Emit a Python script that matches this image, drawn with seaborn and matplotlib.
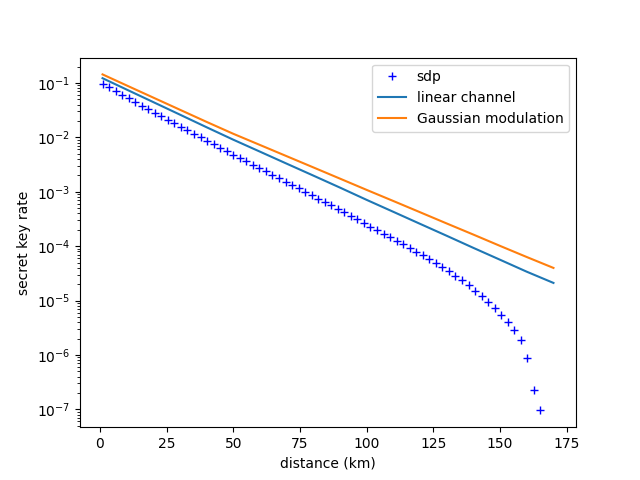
import matplotlib
matplotlib.use("Agg")
import matplotlib.pyplot as plt
import seaborn as sns

# sdp points
sdp_distance = [1.00, 3.45, 5.90, 8.35, 10.80, 13.25, 15.70, 18.14, 20.59, 23.04,
                25.49, 27.94, 30.39, 32.84, 35.29, 37.74, 40.19, 42.64, 45.09, 47.54,
                49.99, 52.43, 54.88, 57.33, 59.78, 62.23, 64.68, 67.13, 69.58, 72.03,
                74.48, 76.93, 79.38, 81.83, 84.28, 86.72, 89.17, 91.62, 94.07, 96.52,
                98.97, 101.42, 103.87, 106.32, 108.77, 111.22, 113.67, 116.12, 118.57, 121.01,
                123.46, 125.91, 128.36, 130.81, 133.26, 135.71, 138.16, 140.61, 143.06, 145.51,
                147.96, 150.41, 152.86, 155.30, 157.75, 160.20, 162.65, 165.10]
sdp_rate = [9.59e-2, 8.29e-2, 7.10e-2, 6.08e-2, 5.21e-2, 4.47e-2, 3.83e-2, 3.29e-2, 2.83e-2, 2.43e-2,
            2.09e-2, 1.80e-2, 1.55e-2, 1.34e-2, 1.16e-2, 9.98e-3, 8.61e-3, 7.43e-3, 6.42e-3, 5.55e-3,
            4.82e-3, 4.19e-3, 3.64e-3, 3.16e-3, 2.74e-3, 2.38e-3, 2.06e-3, 1.78e-3, 1.54e-3, 1.34e-3,
            1.16e-3, 1.00e-3, 8.68e-4, 7.50e-4, 6.48e-4, 5.60e-4, 4.83e-4, 4.17e-4, 3.59e-4, 3.09e-4,
            2.66e-4, 2.29e-4, 1.97e-4, 1.70e-4, 1.46e-4, 1.26e-4, 1.08e-4, 9.28e-5, 7.97e-5, 6.81e-5,
            5.78e-5, 4.91e-5, 4.17e-5, 3.51e-5, 2.82e-5, 2.37e-5, 1.91e-5, 1.53e-5, 1.23e-5, 9.55e-6,
            7.41e-6, 5.43e-6, 3.98e-6, 2.85e-6, 1.86e-6, 8.71e-7, 2.32e-7, 9.59e-8]

# the two reference curves
line_distance = [1, 10, 20, 30, 40, 50, 60, 70, 80, 90, 100, 110, 120, 130, 140, 150, 160, 170]
linear_channel = [1.219e-1, 7.55e-2, 4.44e-2, 2.61e-2, 1.53e-2, 9.04e-3, 5.45e-3, 3.28e-3, 1.98e-3,
                  1.19e-3, 7.08e-4, 4.27e-4, 2.57e-4, 1.55e-4, 9.29e-5, 5.62e-5, 3.39e-5, 2.11e-5]
gaussian_mod = [1.432e-1, 8.99e-2, 5.37e-2, 3.21e-2, 1.92e-2, 1.161e-2, 7.23e-3, 4.50e-3, 2.80e-3,
                1.74e-3, 1.08e-3, 6.75e-4, 4.20e-4, 2.61e-4, 1.63e-4, 1.01e-4, 6.31e-5, 3.98e-5]

fig, ax = plt.subplots(figsize=(6.4, 4.8), dpi=100)

sns.lineplot(x=sdp_distance, y=sdp_rate, ax=ax, marker='+', linestyle='', color='blue',
             markersize=6, markeredgecolor='blue', markeredgewidth=1, label='sdp')
sns.lineplot(x=line_distance, y=linear_channel, ax=ax, color='C0', label='linear channel')
sns.lineplot(x=line_distance, y=gaussian_mod, ax=ax, color='C1', label='Gaussian modulation')

ax.set_yscale('log')
ax.set_xlabel('distance (km)')
ax.set_ylabel('secret key rate')
ax.legend(loc='upper right')

plt.savefig('out.png', dpi=100)
